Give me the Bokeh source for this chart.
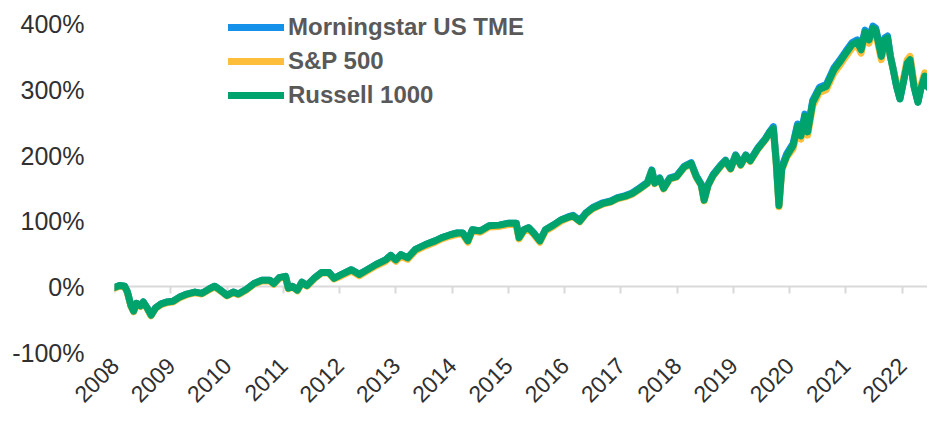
import math
from bokeh.plotting import figure
from bokeh.models import (FixedTicker, LinearAxis, Legend, LegendItem, Range1d,
                          PrintfTickFormatter)
from bokeh.embed import file_html
from bokeh.resources import INLINE

# ---------------- data (cumulative return, %) ----------------
dates = [
    2008.00, 2008.09, 2008.18, 2008.23, 2008.29, 2008.34, 2008.39, 2008.46, 2008.51, 2008.58,
    2008.65, 2008.73, 2008.83, 2008.94, 2009.04, 2009.15, 2009.29, 2009.43, 2009.55, 2009.67,
    2009.78, 2009.88, 2010.00, 2010.11, 2010.20, 2010.34, 2010.48, 2010.62, 2010.76, 2010.83,
    2010.93, 2011.04, 2011.09, 2011.16, 2011.25, 2011.33, 2011.42, 2011.56, 2011.68, 2011.81,
    2011.90,
    2012.04, 2012.21, 2012.35, 2012.47, 2012.65, 2012.82, 2012.91, 2013.00, 2013.09, 2013.21,
    2013.35, 2013.52, 2013.70, 2013.82, 2013.96, 2014.09, 2014.19, 2014.28, 2014.36, 2014.50,
    2014.66, 2014.84, 2015.01, 2015.14, 2015.19, 2015.28, 2015.36, 2015.45, 2015.56, 2015.66,
    2015.80, 2015.94,
    2016.07, 2016.15, 2016.27, 2016.38, 2016.50, 2016.68, 2016.82, 2016.94, 2017.08, 2017.20,
    2017.34, 2017.47, 2017.55, 2017.60, 2017.69, 2017.76, 2017.87, 2017.99, 2018.13, 2018.25,
    2018.34, 2018.43, 2018.48, 2018.55, 2018.64, 2018.78, 2018.86, 2018.95, 2019.04, 2019.13,
    2019.22, 2019.30, 2019.43, 2019.57, 2019.65, 2019.71,
    2019.76, 2019.81, 2019.86, 2019.95,
    2020.06, 2020.14, 2020.20, 2020.27, 2020.32, 2020.41, 2020.53, 2020.65, 2020.79, 2020.88,
    2021.00, 2021.11, 2021.20, 2021.27, 2021.34, 2021.41, 2021.48, 2021.53, 2021.58, 2021.63,
    2021.69, 2021.74,
    2021.79, 2021.84, 2021.90, 2021.96, 2022.02, 2022.09, 2022.14, 2022.21, 2022.28, 2022.33,
    2022.40, 2022.45, 2022.50,
]

russell_1000 = [
    -1, 2, 1, -8, -28, -37, -25, -29, -23, -32, -43, -32, -26, -23, -22, -16, -11, -8, -10, -4,
    1, -5, -13, -8, -11, -4, 5, 10, 10, 5, 14, 16, -2, 1, -5, 7, 2, 14, 22, 22, 13,
    19, 26, 19, 25, 34, 41, 48, 41, 49, 44, 57, 64, 70, 75, 79, 82, 82, 70, 87, 85,
    93, 94, 97, 97, 75, 87, 90, 82, 70, 87, 94, 102,
    106, 108, 100, 112, 120, 127, 130, 135, 138, 142, 150, 158, 177, 158, 165, 150, 165, 168,
    183, 188, 168, 155, 132, 155, 170, 185, 192, 180, 200, 186, 200, 192, 210, 225, 236, 241,
    191, 124, 180, 200,
    215, 245, 230, 260, 236, 281, 301, 305, 331, 341, 356, 369, 373, 361, 388, 376, 394, 391,
    371, 351, 376, 379,
    351, 331, 305, 286, 311, 341, 346, 305, 281, 301, 321, 305, 301,
]

sp_500 = [
    -2, 1, 0, -9, -29, -38, -26, -30, -24, -33, -44, -33, -27, -24, -23, -17, -12, -9, -11, -5,
    0, -6, -14, -9, -12, -5, 4, 9, 9, 4, 13, 15, -3, 0, -6, 6, 1, 13, 21, 21, 12,
    17, 24, 17, 23, 32, 39, 46, 39, 47, 42, 55, 62, 68, 73, 77, 80, 80, 68, 85, 83,
    91, 92, 95, 95, 73, 85, 88, 80, 68, 85, 92, 100,
    105, 107, 99, 111, 119, 126, 129, 134, 137, 141, 149, 157, 176, 157, 164, 149, 164, 167,
    182, 187, 167, 154, 131, 154, 169, 184, 191, 179, 199, 185, 199, 191, 209, 224, 235, 240,
    189, 122, 178, 198,
    210, 240, 225, 255, 231, 276, 296, 300, 326, 336, 351, 364, 368, 356, 383, 371, 389, 386,
    366, 346, 371, 374,
    351, 331, 310, 291, 316, 346, 351, 310, 286, 306, 326, 310, 306,
]

morningstar_us_tme = [
    -1, 2, 1, -8, -28, -37, -25, -29, -23, -32, -43, -32, -26, -23, -22, -16, -11, -8, -10, -4,
    1, -5, -13, -8, -11, -4, 5, 10, 10, 5, 14, 16, -2, 1, -5, 7, 2, 14, 22, 22, 13,
    19, 26, 19, 25, 34, 41, 48, 41, 49, 44, 57, 64, 70, 75, 79, 82, 82, 70, 87, 85,
    93, 94, 97, 97, 75, 87, 90, 82, 70, 87, 94, 102,
    107, 109, 101, 113, 121, 128, 131, 136, 139, 143, 151, 159, 178, 159, 166, 151, 166, 169,
    184, 189, 169, 156, 133, 156, 171, 186, 193, 181, 201, 187, 201, 193, 211, 226, 237, 244,
    194, 127, 183, 203,
    218, 248, 233, 263, 239, 284, 304, 308, 334, 344, 359, 372, 376, 364, 391, 379, 397, 394,
    374, 354, 379, 382,
    352, 332, 306, 287, 312, 342, 347, 306, 282, 302, 322, 306, 302,
]

series_names = ["Morningstar US TME", "S&P 500", "Russell 1000"]
series_colors = ["#1591EA", "#FDBE3C", "#00A36B"]

year_ticks = [2008, 2009, 2010, 2011, 2012, 2013, 2014, 2015, 2016, 2017, 2018, 2019, 2020, 2021, 2022]
year_labels = ["2008", "2009", "2010", "2011", "2012", "2013", "2014", "2015", "2016", "2017",
               "2018", "2019", "2020", "2021", "2022"]
y_ticks = [-100, 0, 100, 200, 300, 400]

# ---------------- figure ----------------
FONT = "Liberation Sans"
p = figure(width=927, height=412, output_backend="svg", toolbar_location=None,
           x_range=Range1d(2008, 2022.45), y_range=Range1d(-100, 430),
           min_border_left=114, min_border_right=0, min_border_top=4, min_border_bottom=60)
p.outline_line_color = None
p.xgrid.visible = False
p.ygrid.visible = False
p.background_fill_color = "white"
p.border_fill_color = "white"

renderers = []
for name, col, vals in zip(series_names, series_colors,
                           [morningstar_us_tme, sp_500, russell_1000]):
    r = p.line(dates, vals, line_color=col, line_width=7,
               line_join="round", line_cap="round")
    renderers.append(r)

# bottom tick labels
xa = p.xaxis[0]
xa.ticker = FixedTicker(ticks=year_ticks)
xa.major_label_overrides = {t: l for t, l in zip(year_ticks, year_labels)}
xa.major_label_orientation = math.pi / 4
xa.axis_line_color = None
xa.major_tick_line_color = None
xa.minor_tick_line_color = None
xa.major_label_text_font = FONT
xa.major_label_text_font_size = "23px"
xa.major_label_text_color = "#303030"
xa.major_label_standoff = 3

# y axis
ya = p.yaxis[0]
ya.ticker = FixedTicker(ticks=y_ticks)
ya.formatter = PrintfTickFormatter(format="%d%%")
ya.axis_line_color = None
ya.major_tick_line_color = None
ya.minor_tick_line_color = None
ya.major_label_text_font = FONT
ya.major_label_text_font_size = "25px"
ya.major_label_text_color = "#303030"
ya.major_label_standoff = 24

# zero line axis with tick marks
zero_axis = LinearAxis(fixed_location=0, ticker=FixedTicker(ticks=year_ticks),
                       axis_line_color="#D9D9D9", axis_line_width=2,
                       major_tick_line_color="#D9D9D9", major_tick_line_width=2,
                       major_tick_in=0, major_tick_out=7,
                       minor_tick_line_color=None,
                       major_label_text_alpha=0, major_label_text_font_size="1px")
zero_axis.level = "underlay"
p.add_layout(zero_axis, "below")

legend = Legend(items=[LegendItem(label=n, renderers=[r]) for n, r in zip(series_names, renderers)],
                location=(114, 242), orientation="vertical",
                background_fill_alpha=0, border_line_color=None,
                padding=0, margin=0, spacing=4,
                glyph_width=56, glyph_height=30, label_height=30, label_standoff=4,
                label_text_font=FONT, label_text_font_style="bold",
                label_text_font_size="24px", label_text_color="#595959")
p.add_layout(legend)

open("out.html", "w").write(file_html(p, INLINE))
